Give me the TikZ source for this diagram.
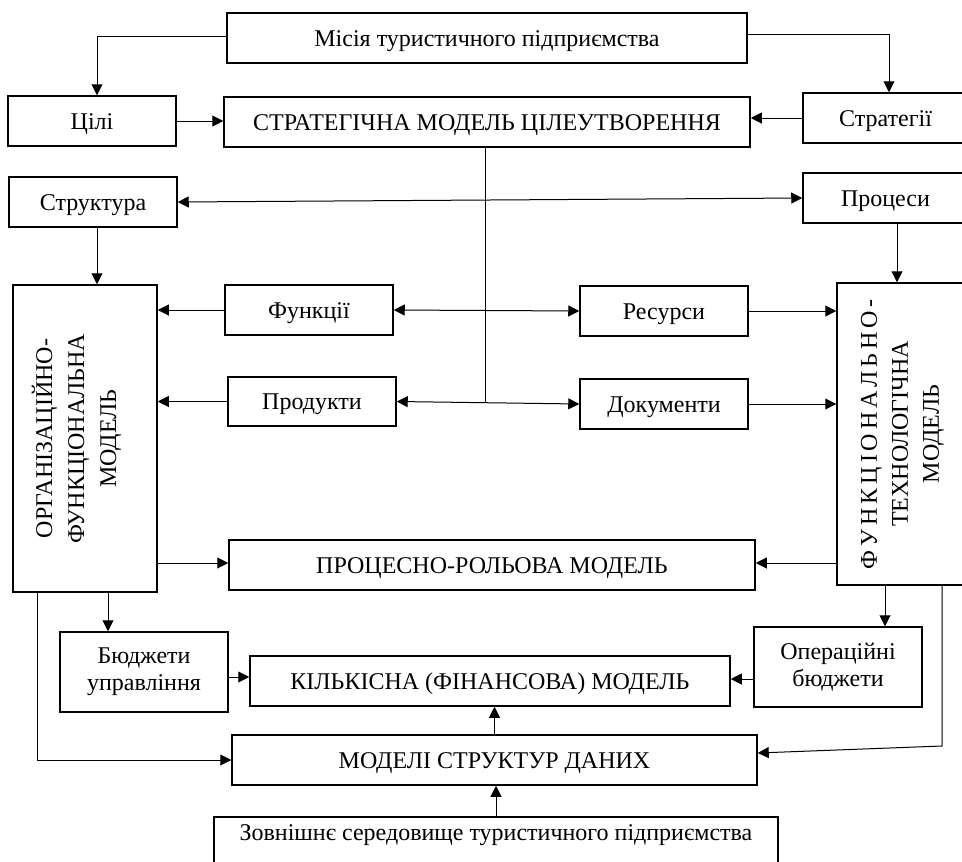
\documentclass[tikz,border=0pt]{standalone}
\usepackage{fontspec}
\setmainfont{Liberation Serif}
\usepackage{graphicx}
\usetikzlibrary{arrows.meta}
\begin{document}
\begin{tikzpicture}[x=1pt,y=-1pt,
  box/.style={draw, line width=1.5pt, inner sep=0pt, align=center,
    font=\fontsize{24}{27}\selectfont},
  one/.style={text height=19pt, text depth=3pt},
  arr/.style={line width=1pt, -{Triangle[length=11pt,width=11pt]}},
  darr/.style={line width=1pt, {Triangle[length=11pt,width=11pt]}-{Triangle[length=11pt,width=11pt]}},
  ln/.style={line width=1pt}]
\useasboundingbox (0,0) rectangle (962,862);
% boxes
\node[box, one, minimum width=520pt, minimum height=50pt] (mis) at (487,38) {Місія туристичного підприємства};
\node[box, one, minimum width=168pt, minimum height=50pt] (celi) at (92,121) {Цілі};
\node[box, one, minimum width=526pt, minimum height=50pt] (strat) at (487,122) {СТРАТЕГІЧНА МОДЕЛЬ ЦІЛЕУТВОРЕННЯ};
\node[box, one, minimum width=165pt, minimum height=50pt] (strg) at (885.5,118) {Стратегії};
\node[box, one, minimum width=168pt, minimum height=50pt] (struct) at (93,202) {Структура};
\node[box, one, minimum width=165pt, minimum height=50pt] (proc) at (885.5,198) {Процеси};
\node[box, minimum width=144pt, minimum height=307pt] (org) at (85,438.5)
  {\hspace*{-14pt}\rotatebox{90}{\begin{tabular}{@{}c@{}}ОРГАНІЗАЦІЙНО-\\[5pt]ФУНКЦІОНАЛЬНА\\[5pt]МОДЕЛЬ\end{tabular}}};
\node[box, one, minimum width=168pt, minimum height=50pt] (func) at (309,310) {Функції};
\node[box, one, minimum width=168pt, minimum height=49pt] (prod) at (312,401.5) {Продукти};
\node[box, one, minimum width=168pt, minimum height=50pt] (res) at (664,311) {Ресурси};
\node[box, one, minimum width=168pt, minimum height=50pt] (doc) at (664,404) {Документи};
\node[box, minimum width=131pt, minimum height=302pt] (ft) at (902.5,434)
  {\rotatebox{90}{\begin{tabular}{@{}c@{}}\makebox[270pt][s]{Ф\hfil У\hfil Н\hfil К\hfil Ц\hfil І\hfil О\hfil Н\hfil А\hfil Л\hfil Ь\hfil Н\hfil О\hfil -}\\[4pt]ТЕХНОЛОГІЧНА\\[4pt]МОДЕЛЬ\end{tabular}}};
\node[box, one, minimum width=526pt, minimum height=50pt] (pr) at (492,565) {ПРОЦЕСНО-РОЛЬОВА МОДЕЛЬ};
\node[box, minimum width=168pt, minimum height=80pt] (bud) at (144,672) {Бюджети\\управління};
\node[box, one, minimum width=480pt, minimum height=50pt] (kil) at (490,681) {КІЛЬКІСНА (ФІНАНСОВА) МОДЕЛЬ};
\node[box, minimum width=168pt, minimum height=80pt] (oper) at (838,667) {Операційні\\бюджети};
\node[box, one, minimum width=525pt, minimum height=50pt] (mod) at (494.5,760) {МОДЕЛІ СТРУКТУР ДАНИХ};
\node[box, minimum width=564pt, minimum height=53pt, text height=19pt, text depth=25pt] (ext) at (496,843.5) {Зовнішнє середовище туристичного підприємства};
% connectors
\draw[arr] ([yshift=2pt]mis.west) -| ([xshift=5pt]celi.north);
\draw[arr] ([yshift=4pt]mis.east) -| ([xshift=3.5pt]strg.north);
\draw[arr] (celi.east) -- (celi.east -| strat.west);
\draw[arr] (strg.west) -- (strg.west -| strat.east);
\draw[darr] (struct.east) -- (proc.west);
\draw[arr] ([xshift=4pt]struct.south) -- ([xshift=4pt]struct.south |- org.north);
\draw[arr] ([xshift=11.5pt]proc.south) -- ([xshift=11.5pt]proc.south |- ft.north);
\coordinate (j) at (485,402.5);
\draw[ln] (strat.south -| j) -- (j);
\draw[darr] (func.east) -- (res.west);
\draw[darr] (prod.east) -- (doc.west);
\draw[arr] (func.west) -- (func.west -| org.east);
\draw[arr] (prod.west) -- (prod.west -| org.east);
\draw[arr] (res.east) -- (res.east -| ft.west);
\draw[arr] (doc.east) -- (doc.east -| ft.west);
\draw[arr] ([yshift=2pt]pr.west -| org.east) -- ([yshift=2pt]pr.west);
\draw[arr] ([yshift=2pt]pr.east -| ft.west) -- ([yshift=2pt]pr.east);
\draw[arr] ([xshift=-36pt]bud.north |- org.south) -- ([xshift=-36pt]bud.north);
\draw[arr] ([yshift=-5pt]bud.east) -- ([yshift=-5pt]bud.east -| kil.west);
\draw[arr] ([yshift=-12pt]oper.west) -- ([yshift=-12pt]oper.west -| kil.east);
\draw[arr] ([xshift=47pt]oper.north |- ft.south) -- ([xshift=47pt]oper.north);
\coordinate (r) at (942,746);
\draw[arr] (r |- ft.south) -- (r) -- ([yshift=7pt]mod.east);
\draw[arr] ([xshift=-48pt]org.south) |- (mod.west);
\draw[arr] (mod.north) -- (mod.north |- kil.south);
\draw[arr] (ext.north) -- (ext.north |- mod.south);
\end{tikzpicture}
\end{document}
